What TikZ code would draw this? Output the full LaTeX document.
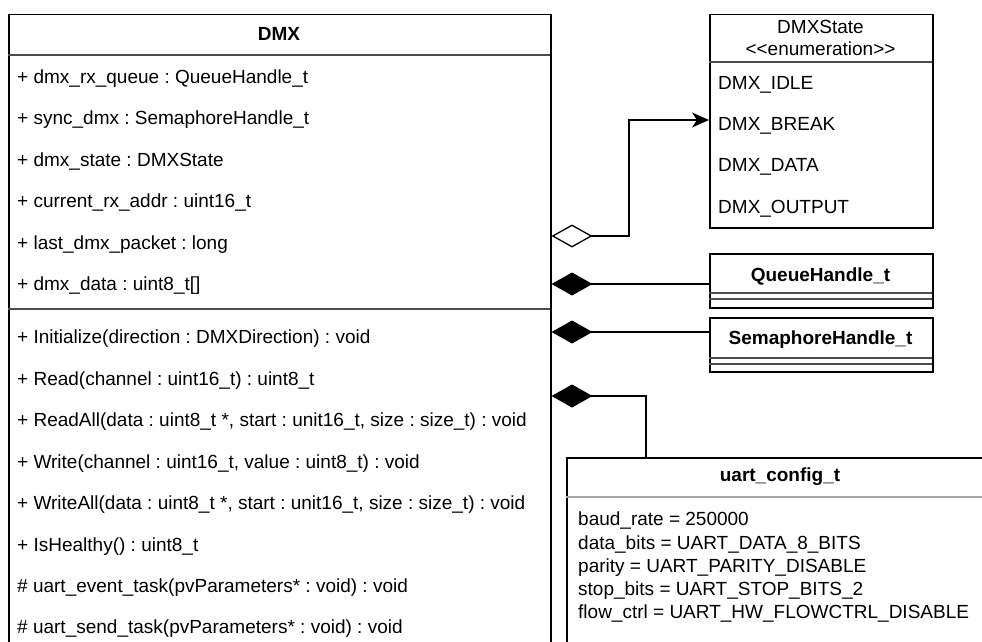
\documentclass[tikz,border=0pt]{standalone}
\usepackage{fontspec}
\setmainfont{Liberation Sans}
\usetikzlibrary{arrows.meta}
\frenchspacing
\begin{document}
\begin{tikzpicture}[x=1pt,y=-1pt,
  box/.style={draw=black,line width=1.5pt,fill=white,inner sep=0pt,anchor=north west},
  sep/.style={line width=1.2pt,draw=black!70},
  lsep/.style={line width=1.2pt,draw=black!35},
  txt/.style={inner sep=0pt,anchor=west,font=\fontsize{19}{23}\selectfont,text height=13.6pt,text depth=0pt},
  ctxt/.style={inner sep=0pt,anchor=center,font=\fontsize{19}{23}\selectfont,text height=13.6pt,text depth=0pt},
  btxt/.style={ctxt,font=\fontsize{19}{23}\selectfont\bfseries},
  conn/.style={line width=1.5pt,draw=black},
  agg/.style={conn,{Diamond[open,length=41pt,width=23pt,line width=1.3pt]}-{Stealth[length=17pt,width=15pt,inset=5pt]}},
  comp/.style={conn,{Diamond[length=41pt,width=23pt]}-}
]
\useasboundingbox (0,0) rectangle (982,642);
% DMX class
\node[box,minimum width=542pt,minimum height=700pt] (dmx) at (8,14) {};
\draw[sep] (8,55) -- (550,55);
\draw[sep] (8,309) -- (550,309);
\node[btxt] (dmxt) at (279,34) {DMX};
\node[txt] (a1) at (17,77) {+ dmx\_rx\_queue : QueueHandle\_t};
\node[txt] (a2) at (17,118) {+ sync\_dmx : SemaphoreHandle\_t};
\node[txt] (a3) at (17,159.5) {+ dmx\_state : DMXState};
\node[txt] (a4) at (17,201) {+ current\_rx\_addr : uint16\_t};
\node[txt] (a5) at (17,242.5) {+ last\_dmx\_packet : long};
\node[txt] (a6) at (17,284) {+ dmx\_data : uint8\_t[]};
\node[txt] (m1) at (17,337) {+ Initialize(direction : DMXDirection) : void};
\node[txt] (m2) at (17,378.5) {+ Read(channel : uint16\_t) : uint8\_t};
\node[txt] (m3) at (17,420) {+ ReadAll(data : uint8\_t *, start : unit16\_t, size : size\_t) : void};
\node[txt] (m4) at (17,461.5) {+ Write(channel : uint16\_t, value : uint8\_t) : void};
\node[txt] (m5) at (17,503) {+ WriteAll(data : uint8\_t *, start : unit16\_t, size : size\_t) : void};
\node[txt] (m6) at (17,544.5) {+ IsHealthy() : uint8\_t};
\node[txt] (m7) at (17,586) {\# uart\_event\_task(pvParameters* : void) : void};
\node[txt] (m8) at (17,627) {\# uart\_send\_task(pvParameters* : void) : void};
% DMXState enumeration
\node[box,minimum width=223pt,minimum height=213pt] (st) at (709,14) {};
\draw[sep] (709,62) -- (932,62);
\node[ctxt] (stt) at (820.5,27) {DMXState};
\node[ctxt] (ste) at (820.5,49) {<{}<enumeration>{}>};
\node[txt] (s1) at (718,83) {DMX\_IDLE};
\node[txt] (s2) at (718,124) {DMX\_BREAK};
\node[txt] (s3) at (718,165) {DMX\_DATA};
\node[txt] (s4) at (718,207) {DMX\_OUTPUT};
% QueueHandle_t
\node[box,minimum width=223pt,minimum height=54pt] (qh) at (709,253) {};
\draw[sep] (709,293) -- (932,293);
\draw[sep] (709,299) -- (932,299);
\node[btxt] (qht) at (820.5,275) {QueueHandle\_t};
% SemaphoreHandle_t
\node[box,minimum width=223pt,minimum height=54pt] (sh) at (709,317) {};
\draw[sep] (709,358) -- (932,358);
\draw[sep] (709,364) -- (932,364);
\node[btxt] (sht) at (820.5,338) {SemaphoreHandle\_t};
% uart_config_t
\node[box,minimum width=428pt,minimum height=300pt] (uc) at (566,457) {};
\draw[lsep] (566,497) -- (994,497);
\node[btxt] (uct) at (780,475) {uart\_config\_t};
\node[txt] (u1) at (578,519) {baud\_rate = 250000};
\node[txt] (u2) at (578,542.5) {data\_bits = UART\_DATA\_8\_BITS};
\node[txt] (u3) at (578,566) {parity = UART\_PARITY\_DISABLE};
\node[txt] (u4) at (578,589) {stop\_bits = UART\_STOP\_BITS\_2};
\node[txt] (u5) at (578,612) {flow\_ctrl = UART\_HW\_FLOWCTRL\_DISABLE};
% connectors
\coordinate (c1) at (dmx.east |- 0,236);
\coordinate (c2) at (dmx.east |- 0,284);
\coordinate (c3) at (dmx.east |- 0,332);
\coordinate (c4) at (dmx.east |- 0,396);
\coordinate (k1) at (629,120);
\coordinate (k4) at (646,396);
\draw[agg] (c1) -| (k1) -- (st.west |- k1);
\draw[comp] (c2) -- (qh.west |- c2);
\draw[comp] (c3) -- (sh.west |- c3);
\draw[comp] (c4) -- (k4) -- (k4 |- uc.north);
\end{tikzpicture}
\end{document}
